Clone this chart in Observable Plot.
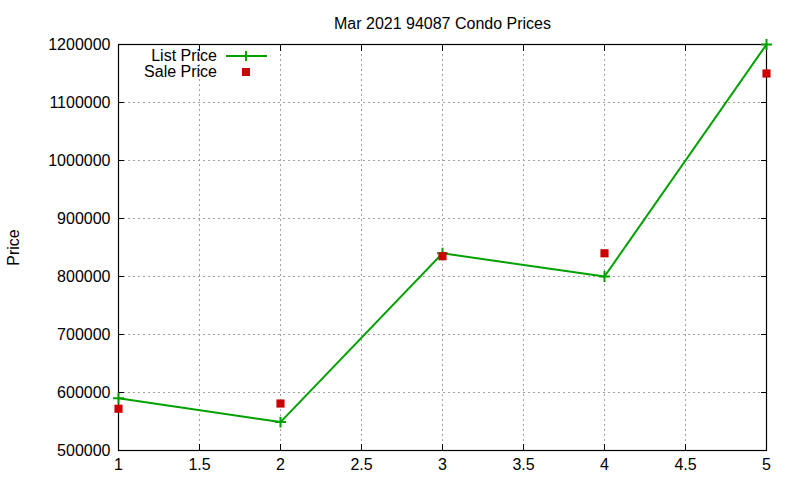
<!DOCTYPE html>
<html><head><meta charset="utf-8">
<script src="https://cdn.jsdelivr.net/npm/d3@7"></script>
<script src="https://cdn.jsdelivr.net/npm/@observablehq/plot@0.6"></script>
<style>
body{margin:0;background:#fff;font-family:"Liberation Sans",Arial,sans-serif;}
#wrap{position:relative;width:800px;height:480px;}
#legend{position:absolute;left:120px;top:48px;font-size:16px;color:#000;}
#legend .row{display:flex;align-items:center;height:16px;}
#legend .lab{width:97px;text-align:right;margin-right:8px;}
</style>
</head><body>
<div id="wrap"><div id="legend"></div></div>
<script>
const title = "Mar 2021 94087 Condo Prices";
const yLabel = "Price";
const xs = [1, 2, 3, 4, 5];
const listPrice = [590000, 549000, 840000, 800000, 1200000];
const salePrice = [572000, 581000, 835000, 840000, 1150000];
const xTicks = [1, 1.5, 2, 2.5, 3, 3.5, 4, 4.5, 5];
const yTicks = [500000, 600000, 700000, 800000, 900000, 1000000, 1100000, 1200000];
const seriesNames = ["List Price", "Sale Price"];
const green = "#00a000", red = "#cc0000";

const listData = xs.map((x, i) => ({x, y: listPrice[i]}));
const saleData = xs.map((x, i) => ({x, y: salePrice[i]}));
const blank = () => "";

const chart = Plot.plot({
  width: 800, height: 480,
  marginLeft: 118, marginRight: 34, marginTop: 44, marginBottom: 30,
  style: {fontFamily: "'Liberation Sans', Arial, sans-serif", fontSize: "16px", color: "#000", background: "#fff"},
  x: {domain: [1, 5]},
  y: {domain: [500000, 1200000]},
  marks: [
    Plot.gridX(xTicks, {stroke: "#a0a0a0", strokeOpacity: 1, strokeDasharray: "2,3"}),
    Plot.gridY(yTicks, {stroke: "#a0a0a0", strokeOpacity: 1, strokeDasharray: "2,3"}),
    Plot.frame({stroke: "#000", strokeWidth: 1.2}),
    Plot.axisX(xTicks, {tickSize: -6, tickPadding: 14, tickFormat: d => String(d), fontSize: 16, label: null}),
    Plot.axisX(xTicks, {anchor: "top", tickSize: -6, tickFormat: blank, label: null}),
    Plot.axisY(yTicks, {tickSize: -6, tickPadding: 14, tickFormat: d => String(d), fontSize: 16,
      label: yLabel, labelAnchor: "center", labelOffset: 111, labelArrow: "none"}),
    Plot.axisY(yTicks, {anchor: "right", tickSize: -6, tickFormat: blank, label: null}),
    Plot.line(listData, {x: "x", y: "y", stroke: green, strokeWidth: 2}),
    Plot.dot(listData, {x: "x", y: "y", symbol: "plus", r: 3.6, stroke: green, strokeWidth: 2}),
    Plot.dot(saleData, {x: "x", y: "y", symbol: "square", r: 4.6, fill: red, stroke: "none"}),
    Plot.text([title], {frameAnchor: "top", dy: -27, fontSize: 16, fill: "#000"})
  ]
});
document.getElementById("wrap").prepend(chart);

const legend = document.getElementById("legend");
seriesNames.forEach((name, i) => {
  const row = document.createElement("div");
  row.className = "row";
  const lab = document.createElement("div");
  lab.className = "lab";
  lab.textContent = name;
  row.appendChild(lab);
  const ns = "http://www.w3.org/2000/svg";
  const s = document.createElementNS(ns, "svg");
  s.setAttribute("width", 44); s.setAttribute("height", 16);
  if (i === 0) {
    s.innerHTML = `<line x1="1" x2="42" y1="8" y2="8" stroke="${green}" stroke-width="2"/>` +
      `<line x1="21" x2="21" y1="3" y2="13" stroke="${green}" stroke-width="2"/>`;
  } else {
    s.innerHTML = `<rect x="17" y="4" width="8" height="8" fill="${red}"/>`;
  }
  row.appendChild(s);
  legend.appendChild(row);
});
</script>
</body></html>
